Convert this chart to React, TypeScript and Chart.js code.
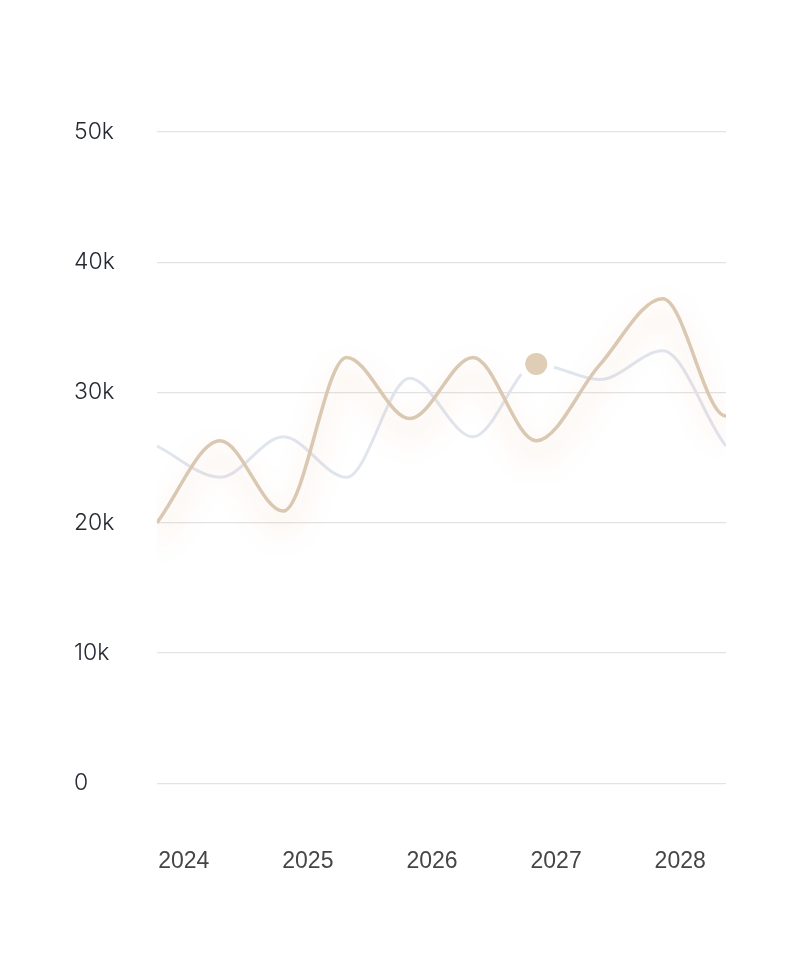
import React, { useEffect, useRef } from "react";
import { Chart, registerables } from "chart.js";

Chart.register(...registerables);

// p10 lies just past the right edge of the plot and is clipped by the chart area
const pointLabels = ["p0", "p1", "p2", "p3", "p4", "p5", "p6", "p7", "p8", "p9", "p10"];
const brownValues = [20000, 26300, 20900, 32700, 28000, 32700, 26300, 32100, 37200, 28200, 28400];
const grayValues = [25900, 23500, 26600, 23500, 31100, 26600, 32200, 31000, 33200, 25900, 21500];
const highlightIndex = 6;
const lastVisibleIndex = 9;
const yearLabels = ["2024", "2025", "2026", "2027", "2028"];
const yTickLabels = ["0", "10k", "20k", "30k", "40k", "50k"];

const BROWN = "#dac8b2";
const DOT = "#e0cdb6";
const GRAY = "#e0e5ee";

const shadowPlugin = {
  id: "lineShadow",
  beforeDatasetDraw(chart: any, args: any) {
    if (args.index !== 0) return;
    const ctx = chart.ctx;
    ctx.save();
    ctx.shadowColor = "rgba(232, 170, 115, 0.5)";
    ctx.shadowBlur = 24;
    ctx.shadowOffsetY = 16;
  },
  afterDatasetDraw(chart: any, args: any) {
    if (args.index !== 0) return;
    chart.ctx.restore();
  },
};

export default function App() {
  const ref = useRef<HTMLCanvasElement | null>(null);

  useEffect(() => {
    if (!ref.current) return;
    const firstYear = Number(yearLabels[0]);
    const chart = new Chart(ref.current, {
      type: "line",
      data: {
        labels: pointLabels,
        datasets: [
          {
            data: brownValues,
            borderColor: BROWN,
            borderWidth: 3.5,
            cubicInterpolationMode: "monotone",
            pointRadius: 0,
            fill: false,
            xAxisID: "x",
          },
          {
            data: grayValues,
            borderColor: GRAY,
            borderWidth: 3,
            cubicInterpolationMode: "monotone",
            pointRadius: grayValues.map((_, i) => (i === highlightIndex ? 14.5 : 0)),
            pointBackgroundColor: DOT,
            pointBorderColor: "#ffffff",
            pointBorderWidth: 7,
            fill: false,
            xAxisID: "x",
          },
        ],
      },
      options: {
        animation: false,
        responsive: true,
        maintainAspectRatio: false,
        events: [],
        layout: { padding: { top: 124, left: 66, right: 66, bottom: 19 } },
        plugins: { legend: { display: false }, tooltip: { enabled: false } },
        scales: {
          x: { type: "category", display: false, offset: false, min: 0, max: lastVisibleIndex },
          years: {
            type: "linear",
            position: "bottom",
            min: firstYear - 0.217,
            max: firstYear + 4.369,
            grid: { display: false, drawTicks: false },
            border: { display: false },
            ticks: {
              stepSize: 1,
              includeBounds: false,
              padding: 64,
              color: "#454545",
              font: { family: "'Liberation Sans', Arial, sans-serif", size: 23 },
              callback: (v: any) => {
                const i = Math.round(Number(v) - firstYear);
                return yearLabels[i] ?? "";
              },
            },
          },
          y: {
            min: 0,
            max: 50000,
            position: "left",
            grid: { color: "#e3e3e3", lineWidth: 1.3, drawTicks: false },
            border: { display: false },
            ticks: {
              stepSize: 10000,
              padding: 21,
              crossAlign: "far",
              color: "#262a33",
              font: { family: "Inter, 'Noto Sans', sans-serif", size: 23, weight: "300" },
              callback: (v: any) => yTickLabels[Math.round(Number(v) / 10000)] ?? "",
            },
          },
        },
      },
      plugins: [shadowPlugin],
    } as any);
    return () => chart.destroy();
  }, []);

  return (
    <div style={{ position: "relative", width: 784, height: 950 }}>
      <canvas ref={ref} />
    </div>
  );
}
